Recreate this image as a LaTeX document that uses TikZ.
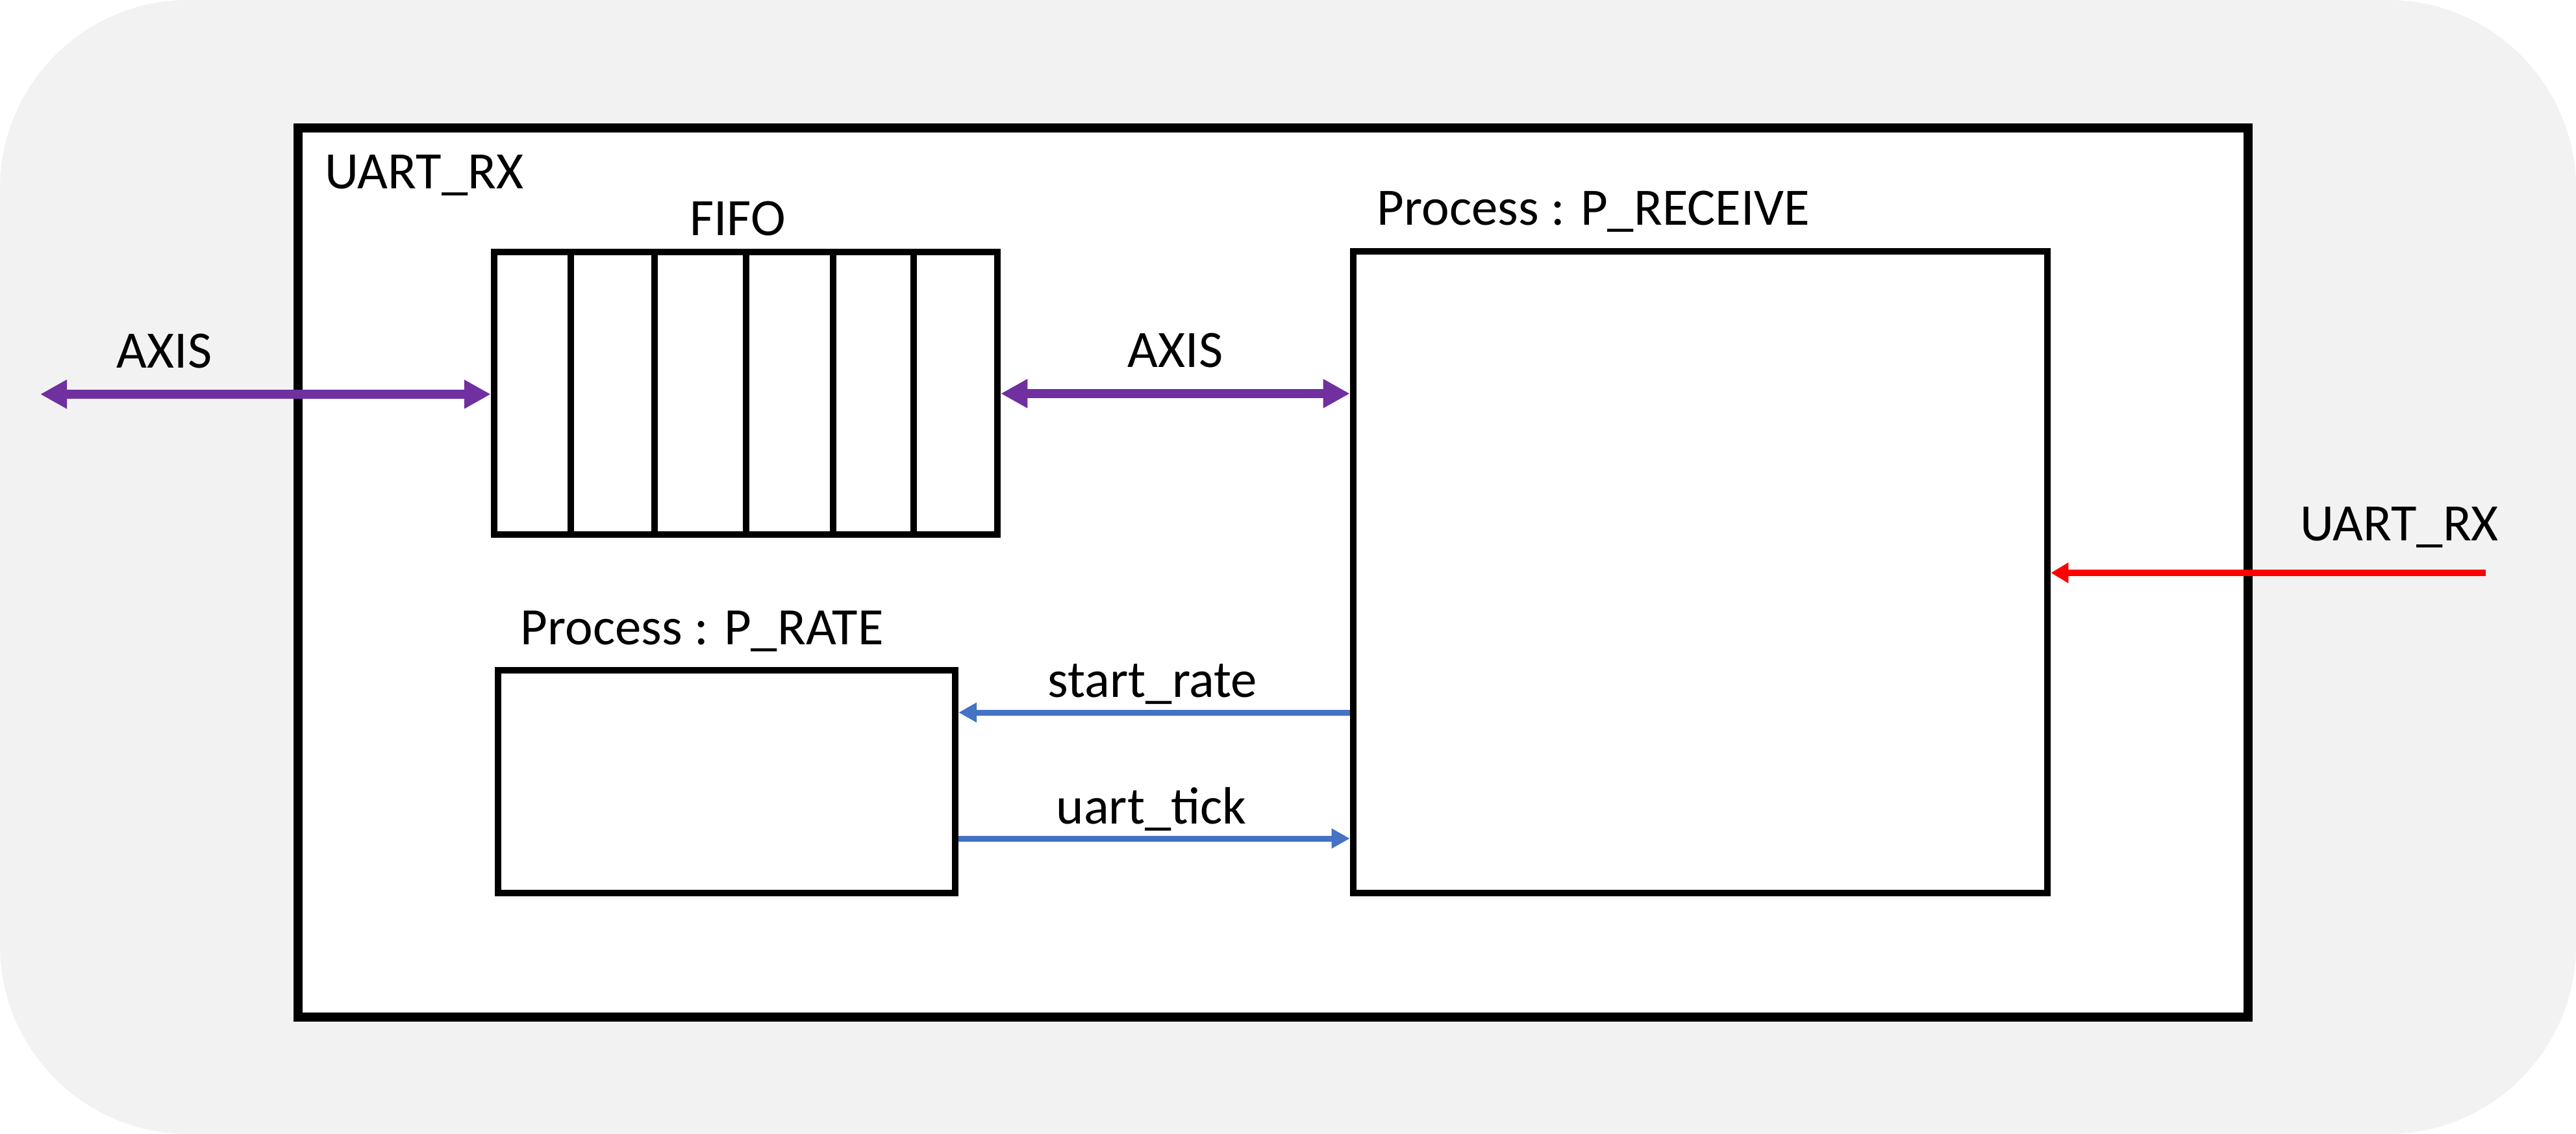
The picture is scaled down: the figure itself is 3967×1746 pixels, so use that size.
\documentclass[tikz,border=0pt]{standalone}
\usepackage{fontspec}
\setmainfont{Carlito}
\usetikzlibrary{arrows.meta}
\definecolor{bggray}{HTML}{F2F2F2}
\definecolor{axispurple}{HTML}{7030A0}
\definecolor{sigblue}{HTML}{4472C4}
\definecolor{rxred}{HTML}{FF0000}
\begin{document}
\begin{tikzpicture}[x=0.01cm,y=-0.01cm,
  outerbox/.style={draw=black, line width=0.14cm, fill=white, inner sep=0pt},
  box/.style={draw=black, line width=0.10cm, fill=white, inner sep=0pt},
  divider/.style={draw=black, line width=0.10cm},
  lbl/.style={font=\fontsize{23pt}{27pt}\selectfont, inner sep=0pt},
  axisarrow/.style={draw=axispurple, line width=0.14cm,
    {Triangle[length=0.41cm,width=0.42cm]}-{Triangle[length=0.41cm,width=0.42cm]}},
  sigarrow/.style={draw=sigblue, line width=0.09cm,
    -{Triangle[length=0.28cm,width=0.29cm]}},
  redarrow/.style={draw=rxred, line width=0.10cm,
    -{Triangle[length=0.27cm,width=0.30cm]}}
]
\useasboundingbox (0,0) rectangle (3967,1746);
\fill[bggray, rounded corners=2.9cm] (0,0) rectangle (3967,1746);

% blocks
\node[outerbox, minimum width=30.01cm, minimum height=13.69cm] (uart) at (1960.5,881.5) {};
\node[box, minimum width=7.75cm, minimum height=4.35cm] (fifo) at (1148.5,605.5) {};
\node[box, minimum width=10.69cm, minimum height=9.88cm] (prx) at (2618.5,881) {};
\node[box, minimum width=7.04cm, minimum height=3.43cm] (prate) at (1119,1203.5) {};

% FIFO cells
\foreach \x in {879,1008,1149,1283,1407}
  \draw[divider] (\x,388) -- (\x,823);

% connector coordinates
\coordinate (axl) at (62,607);
\coordinate (axm) at (1800,606);
\coordinate (sr) at (1800,1097);
\coordinate (ut) at (1800,1291);
\coordinate (rxin) at (3828,882);

% connectors
\draw[axisarrow] (axl) -- (fifo.west |- axl);
\draw[axisarrow] (fifo.east |- axm) -- (prx.west |- axm);
\draw[sigarrow] (prx.west |- sr) -- (prate.east |- sr);
\draw[sigarrow] (prate.east |- ut) -- (prx.west |- ut);
\draw[redarrow] (rxin) -- (prx.east |- rxin);

% labels
\node[lbl, anchor=base west] (tuart) at (500,291) {UART\_RX};
\node[lbl, anchor=base] (tfifo) at (1136,363) {FIFO};
\node[lbl, anchor=base] (taxl) at (253,567) {AXIS};
\node[lbl, anchor=base] (taxm) at (1810,566) {AXIS};
\node[lbl, anchor=base west] (tprx) at (2120,347) {Process : P\_RECEIVE};
\node[lbl, anchor=base west] (tprate) at (801,992) {Process : P\_RATE};
\node[lbl, anchor=base] (tsr) at (1775,1073) {start\_rate};
\node[lbl, anchor=base] (tut) at (1773,1268) {uart\_tick};
\node[lbl, anchor=base] (trx) at (3695,832) {UART\_RX};
\end{tikzpicture}
\end{document}
